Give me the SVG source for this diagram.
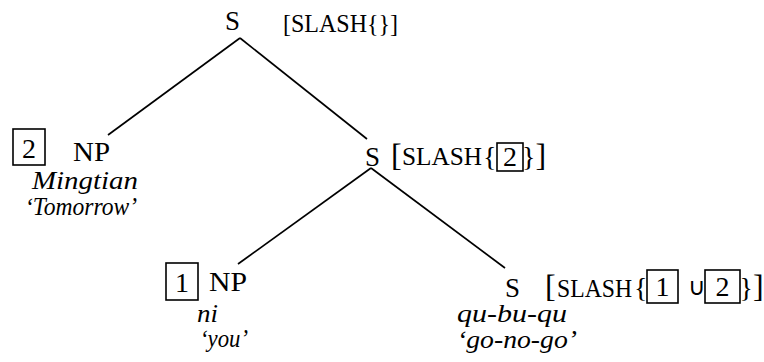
<svg xmlns="http://www.w3.org/2000/svg" width="764" height="362" viewBox="0 0 764 362">
<style>
text{font-family:"Liberation Serif","Times New Roman",serif;font-size:28px;fill:#000}
.it{font-style:italic;font-size:25px}
.sl{font-size:25px}
.br{font-size:32px}
.box{fill:none;stroke:#000;stroke-width:1.6}
.dg{text-anchor:middle}
line{stroke:#000;stroke-width:1.7}
</style>
<rect width="764" height="362" fill="#fff"/>
<g id="connectors">
<line x1="240" y1="38" x2="108" y2="135"/>
<line x1="240" y1="38" x2="367" y2="139"/>
<line x1="371" y1="168" x2="238" y2="264"/>
<line x1="371" y1="168" x2="505" y2="268"/>
</g>
<g id="root">
<text x="225" y="30" textLength="15" lengthAdjust="spacingAndGlyphs">S</text>
<text class="sl" x="283" y="32" textLength="115" lengthAdjust="spacingAndGlyphs">[SLASH{}]</text>
</g>
<g id="np-mingtian">
<rect class="box" x="13" y="129" width="32" height="36"/>
<text class="dg" x="29" y="158">2</text>
<text x="73" y="161" textLength="37" lengthAdjust="spacingAndGlyphs">NP</text>
<text class="it" x="32" y="189" textLength="106" lengthAdjust="spacingAndGlyphs">Mingtian</text>
<text class="it" x="25" y="215" textLength="112" lengthAdjust="spacingAndGlyphs">‘Tomorrow’</text>
</g>
<g id="s-mid">
<text x="365" y="166" textLength="15" lengthAdjust="spacingAndGlyphs">S</text>
<rect class="box" x="497" y="143" width="26" height="28"/>
<text y="165"><tspan class="br" x="391" y="166">[</tspan><tspan class="sl" x="402" y="165" textLength="80" lengthAdjust="spacingAndGlyphs">SLASH</tspan><tspan x="483" y="166">{</tspan><tspan x="503" y="166">2</tspan><tspan x="522" y="166">}</tspan><tspan class="br" x="535.5" y="166">]</tspan></text>
</g>
<g id="np-ni">
<rect class="box" x="166" y="263" width="32" height="37"/>
<text class="dg" x="182" y="292">1</text>
<text x="209" y="291" textLength="38" lengthAdjust="spacingAndGlyphs">NP</text>
<text class="it" x="197" y="322" textLength="21" lengthAdjust="spacingAndGlyphs">ni</text>
<text class="it" x="200" y="347" textLength="48" lengthAdjust="spacingAndGlyphs">‘you’</text>
</g>
<g id="s-qubuqu">
<text x="505" y="297" textLength="15" lengthAdjust="spacingAndGlyphs">S</text>
<rect class="box" x="647" y="270" width="31" height="33"/>
<rect class="box" x="705" y="270" width="35" height="33"/>
<text y="297"><tspan class="br" x="545" y="297">[</tspan><tspan class="sl" x="557" y="297" textLength="75" lengthAdjust="spacingAndGlyphs">SLASH</tspan><tspan x="634" y="297">{</tspan><tspan x="655.5" y="296">1</tspan><tspan x="688" y="295" font-size="24">∪</tspan><tspan x="715.5" y="296">2</tspan><tspan x="739.5" y="297">}</tspan><tspan class="br" font-size="31" x="753" y="297">]</tspan></text>
<text class="it" x="457" y="322" textLength="110" lengthAdjust="spacingAndGlyphs">qu-bu-qu</text>
<text class="it" x="457" y="348" textLength="120" lengthAdjust="spacingAndGlyphs">‘go-no-go’</text>
</g>
</svg>
